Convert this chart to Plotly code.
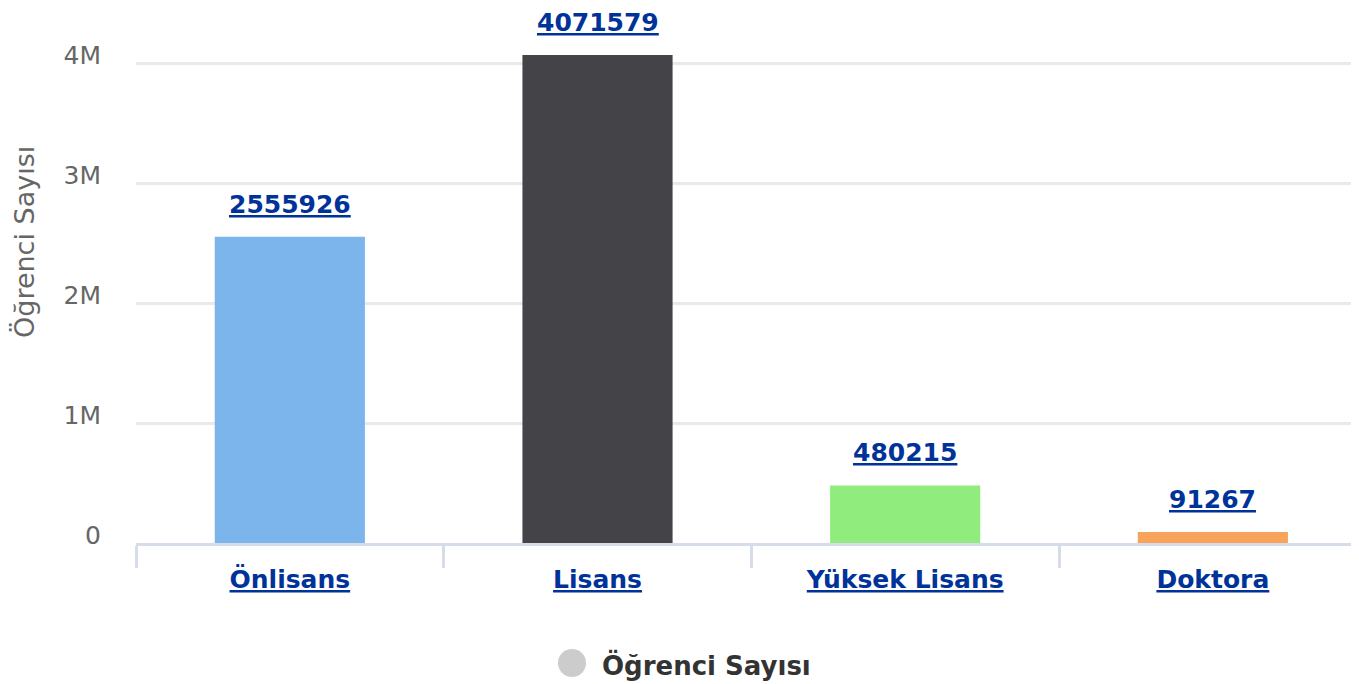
import plotly.graph_objects as go

# --- data -------------------------------------------------------------
categories = ["Önlisans", "Lisans", "Yüksek Lisans", "Doktora"]
students = [2555926, 4071579, 480215, 91267]
bar_colors = ["#7cb5ec", "#434348", "#90ed7d", "#f7a35c"]

y_tickvals = [0, 1_000_000, 2_000_000, 3_000_000, 4_000_000]
y_ticktext = ["0", "1M", "2M", "3M", "4M"]

series_name = "Öğrenci Sayısı"
axis_title = "Öğrenci Sayısı"

# --- style ------------------------------------------------------------
FONT = "DejaVu Sans"
LINK_BLUE = "#003399"
OFF = 8  # page body margin, figure starts at (8, 8)
W, H = 1359 - OFF, 684 - OFF
M_L, M_R, M_T, M_B = 136 - OFF, 0, 54 - OFF, 141
PLOT_W = W - M_L - M_R
PLOT_H = H - M_T - M_B


def px_to_paper(x, y):
    # page pixel position -> paper coords (used for legend / title only)
    x, y = x - OFF, y - OFF
    return (x - M_L) / PLOT_W, (H - M_B - y) / PLOT_H


fig = go.Figure()

fig.add_trace(go.Bar(
    x=categories,
    y=students,
    marker=dict(color=bar_colors, line=dict(width=0)),
    width=0.488,
    showlegend=False,
    hoverinfo="x+y",
))

# value labels above the bars
for cat, val in zip(categories, students):
    fig.add_annotation(
        x=cat, y=val, xref="x", yref="y",
        text=str(val), showarrow=False,
        yanchor="bottom", yshift=16,
        font=dict(family=FONT, size=25, color=LINK_BLUE, weight="bold",
                  lineposition="under"),
    )

# rotated y-axis title
tx, ty = px_to_paper(24, 242)
fig.add_annotation(
    x=tx, y=ty, xref="paper", yref="paper",
    text=axis_title, textangle=-90, showarrow=False,
    xanchor="center", yanchor="middle",
    font=dict(family=FONT, size=27, color="#666666"),
)

# legend: grey dot + bold name, centred under the chart
cx, cy = px_to_paper(572, 663)
fig.add_shape(
    type="circle", xref="paper", yref="paper",
    xsizemode="pixel", ysizemode="pixel",
    xanchor=cx, yanchor=cy, x0=-14, x1=14, y0=-14, y1=14,
    fillcolor="#cccccc", line=dict(width=0),
)
lx, ly = px_to_paper(600, 665)
fig.add_annotation(
    x=lx, y=ly, xref="paper", yref="paper",
    text=series_name, showarrow=False,
    xanchor="left", yanchor="middle",
    font=dict(family=FONT, size=26, color="#333333", weight="bold"),
)

ymax = max(students) * 1.002
fig.update_layout(
    width=W, height=H, autosize=False,
    margin=dict(l=M_L, r=M_R, t=M_T, b=M_B, pad=0),
    paper_bgcolor="white", plot_bgcolor="white",
    showlegend=False,
    font=dict(family=FONT),
    xaxis=dict(
        type="category",
        range=[-0.5, 3.475],
        showgrid=False,
        showline=True, linecolor="#d6dcea", linewidth=3,
        ticks="outside", tickson="boundaries",
        ticklen=22, tickwidth=3, tickcolor="#d6dcea",
        ticklabelstandoff=12,
        tickfont=dict(family=FONT, size=25, color=LINK_BLUE, weight="bold",
                      lineposition="under"),
        fixedrange=True,
    ),
    yaxis=dict(
        range=[0, ymax],
        tickvals=y_tickvals, ticktext=y_ticktext,
        showgrid=True, gridcolor="#e9e9e9", gridwidth=3,
        zeroline=False, showline=False,
        ticks="", ticklabelstandoff=34, ticklabelshift=-8,
        tickfont=dict(family=FONT, size=25, color="#666666"),
        fixedrange=True,
    ),
)

fig.write_html("out.html")
